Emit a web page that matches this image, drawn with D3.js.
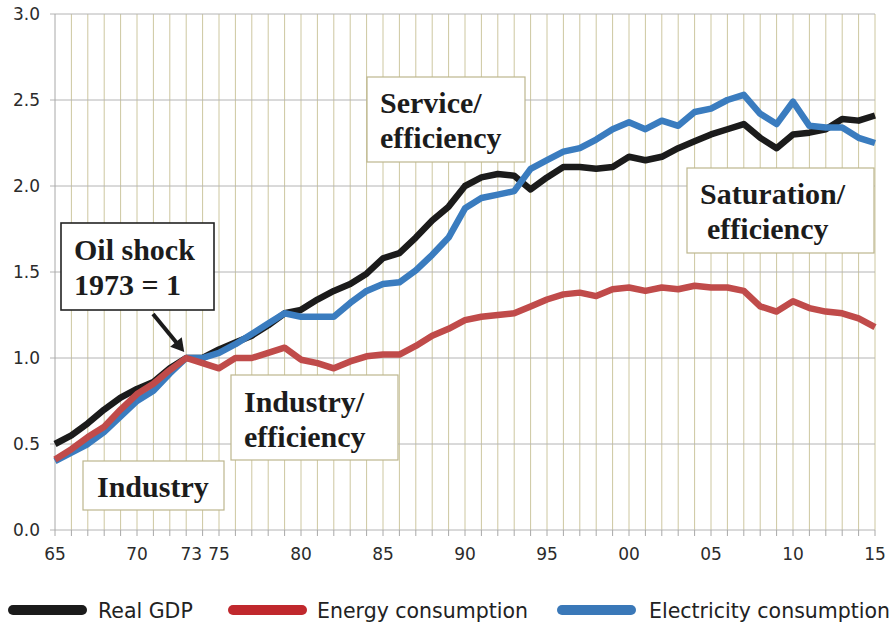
<!DOCTYPE html>
<html>
<head>
<meta charset="utf-8">
<script src="https://cdn.jsdelivr.net/npm/d3@7"></script>
<style>
  body { margin: 0; background: #fff; }
  svg { display: block; }
  .tick-label { font-family: "DejaVu Sans", Verdana, sans-serif; font-size: 17px; fill: #2b2b2b; }
  .legend-label { font-family: "DejaVu Sans", Verdana, sans-serif; font-size: 20.5px; fill: #222; }
  .note { font-family: "Liberation Serif", "Times New Roman", serif; font-weight: bold; font-size: 30px; fill: #1c1c1c; }
</style>
</head>
<body>
<svg width="893" height="624"></svg>
<script>
// years 1965..2015, index 1973 = 1
const years = d3.range(1965, 2016);

const realGdp = [
  0.50, 0.55, 0.62, 0.70, 0.77, 0.82, 0.86, 0.94, 1.00, 1.00,
  1.05, 1.09, 1.13, 1.19, 1.26, 1.28, 1.34, 1.39, 1.43, 1.49,
  1.58, 1.61, 1.70, 1.80, 1.88, 2.00, 2.05, 2.07, 2.06, 1.98,
  2.05, 2.11, 2.11, 2.10, 2.11, 2.17, 2.15, 2.17, 2.22, 2.26,
  2.30, 2.33, 2.36, 2.28, 2.22, 2.30, 2.31, 2.33, 2.39, 2.38,
  2.41
];

const energy = [
  0.41, 0.47, 0.54, 0.60, 0.70, 0.79, 0.85, 0.93, 1.00, 0.97,
  0.94, 1.00, 1.00, 1.03, 1.06, 0.99, 0.97, 0.94, 0.98, 1.01,
  1.02, 1.02, 1.07, 1.13, 1.17, 1.22, 1.24, 1.25, 1.26, 1.30,
  1.34, 1.37, 1.38, 1.36, 1.40, 1.41, 1.39, 1.41, 1.40, 1.42,
  1.41, 1.41, 1.39, 1.30, 1.27, 1.33, 1.29, 1.27, 1.26, 1.23,
  1.18
];

const electricity = [
  0.40, 0.45, 0.50, 0.57, 0.66, 0.75, 0.81, 0.91, 1.00, 1.00,
  1.03, 1.08, 1.14, 1.20, 1.26, 1.24, 1.24, 1.24, 1.32, 1.39,
  1.43, 1.44, 1.51, 1.60, 1.70, 1.87, 1.93, 1.95, 1.97, 2.10,
  2.15, 2.20, 2.22, 2.27, 2.33, 2.37, 2.33, 2.38, 2.35, 2.43,
  2.45, 2.50, 2.53, 2.42, 2.36, 2.49, 2.35, 2.34, 2.34, 2.28,
  2.25
];

const xTickYears = [1965, 1970, 1973, 1975, 1980, 1985, 1990, 1995, 2000, 2005, 2010, 2015];
const yTicks = [0, 0.5, 1.0, 1.5, 2.0, 2.5, 3.0];

const seriesNames = ["Real GDP", "Energy consumption", "Electricity consumption"];

const svg = d3.select("svg");
const margin = { left: 55, right: 18, top: 14, bottom: 94 };
const width = +svg.attr("width");
const height = +svg.attr("height");

const x = d3.scaleLinear().domain([1965, 2015]).range([margin.left, width - margin.right]);
const y = d3.scaleLinear().domain([0, 3]).range([height - margin.bottom, margin.top]);

// vertical year grid (khaki)
svg.append("g")
  .selectAll("line")
  .data(years.slice(1))
  .enter()
  .append("line")
  .attr("x1", d => x(d)).attr("x2", d => x(d))
  .attr("y1", y(3)).attr("y2", y(0))
  .attr("stroke", "#cdc7a0")
  .attr("stroke-width", 1);

// horizontal grid + y ticks
svg.append("g")
  .selectAll("line")
  .data(yTicks)
  .enter()
  .append("line")
  .attr("x1", x(1965) - 5).attr("x2", x(2015))
  .attr("y1", d => y(d)).attr("y2", d => y(d))
  .attr("stroke", "#b4b4b4")
  .attr("stroke-width", 1);

// y axis line
svg.append("line")
  .attr("x1", x(1965)).attr("x2", x(1965))
  .attr("y1", y(3)).attr("y2", y(0))
  .attr("stroke", "#a8a8a8");

// x ticks
svg.append("g")
  .selectAll("line")
  .data(years)
  .enter()
  .append("line")
  .attr("x1", d => x(d)).attr("x2", d => x(d))
  .attr("y1", y(0)).attr("y2", y(0) + 6)
  .attr("stroke", "#a8a8a8");

svg.append("g")
  .selectAll("text")
  .data(yTicks)
  .enter()
  .append("text")
  .attr("class", "tick-label")
  .attr("x", 40)
  .attr("y", d => y(d))
  .attr("dy", "0.36em")
  .attr("text-anchor", "end")
  .text(d => d3.format(".1f")(d));

svg.append("g")
  .selectAll("text")
  .data(xTickYears)
  .enter()
  .append("text")
  .attr("class", "tick-label")
  .attr("x", d => x(d) + (d === 1973 ? 5 : 0))
  .attr("y", y(0) + 30)
  .attr("text-anchor", "middle")
  .text(d => String(d).slice(2));

// annotation boxes (pixel layout)
const notes = [
  { lines: ["Service/", "efficiency"], x: 367, y: 77, w: 158, h: 85, tx: 380, ty: 113, border: "#bdb68e" },
  { lines: ["Saturation/", "efficiency"], x: 687, y: 168, w: 187, h: 85, tx: 700, ty: 204, border: "#bdb68e", indent: [0, 7] },
  { lines: ["Industry/", "efficiency"], x: 231, y: 375, w: 167, h: 85, tx: 244, ty: 412, border: "#bdb68e" },
  { lines: ["Industry"], x: 83, y: 461, w: 141, h: 49, tx: 97, ty: 497, border: "#bdb68e" },
  { lines: ["Oil shock", "1973 = 1"], x: 61, y: 223, w: 153, h: 87, tx: 74, ty: 260, border: "#222", sw: 1.6 }
];

const lineGen = d3.line()
  .x((d, i) => x(years[i]))
  .y(d => y(d))
  .curve(d3.curveLinear);

const plotted = [
  { values: realGdp, color: "#1b1b1b" },
  { values: electricity, color: "#3a7cbf" },
  { values: energy, color: "#c04b4a" }
];

const noteG = svg.append("g");
notes.forEach(function(n) {
  const g = noteG.append("g");
  g.append("rect")
    .attr("x", n.x).attr("y", n.y)
    .attr("width", n.w).attr("height", n.h)
    .attr("fill", "#fff")
    .attr("stroke", n.border)
    .attr("stroke-width", n.sw || 1.2);
  n.lines.forEach(function(t, i) {
    g.append("text")
      .attr("class", "note")
      .attr("x", n.tx + (n.indent ? n.indent[i] : 0))
      .attr("y", n.ty + i * 35)
      .text(t);
  });
});

svg.append("g")
  .selectAll("path")
  .data(plotted)
  .enter()
  .append("path")
  .attr("d", d => lineGen(d.values))
  .attr("fill", "none")
  .attr("stroke", d => d.color)
  .attr("stroke-width", 6.5)
  .attr("stroke-linejoin", "round")
  .attr("stroke-linecap", "butt");

// arrow to the 1973 point
const tip = [x(1973) - 2, y(1.0) - 6];
const tail = [153, 314];
const dx = tip[0] - tail[0], dy = tip[1] - tail[1];
const len = Math.sqrt(dx * dx + dy * dy);
const ux = dx / len, uy = dy / len;
const base = [tip[0] - 13 * ux, tip[1] - 13 * uy];
svg.append("line")
  .attr("x1", tail[0]).attr("y1", tail[1])
  .attr("x2", base[0] + ux).attr("y2", base[1] + uy)
  .attr("stroke", "#1b1b1b")
  .attr("stroke-width", 4);
svg.append("path")
  .attr("d", "M" + tip + "L" + [base[0] - 7.5 * uy, base[1] + 7.5 * ux] +
    "L" + [base[0] + 7.5 * uy, base[1] - 7.5 * ux] + "Z")
  .attr("fill", "#1b1b1b");

// legend
const legendItems = [
  { name: seriesNames[0], color: "#1b1b1b", x: 13, tx: 98 },
  { name: seriesNames[1], color: "#c0282d", x: 233, tx: 317 },
  { name: seriesNames[2], color: "#3a78b8", x: 562, tx: 649 }
];
const legend = svg.append("g");
legendItems.forEach(function(it) {
  legend.append("line")
    .attr("x1", it.x).attr("x2", it.x + 69)
    .attr("y1", 610).attr("y2", 610)
    .attr("stroke", it.color)
    .attr("stroke-width", 10)
    .attr("stroke-linecap", "round");
  legend.append("text")
    .attr("class", "legend-label")
    .attr("x", it.tx)
    .attr("y", 618)
    .text(it.name);
});
</script>
</body>
</html>
